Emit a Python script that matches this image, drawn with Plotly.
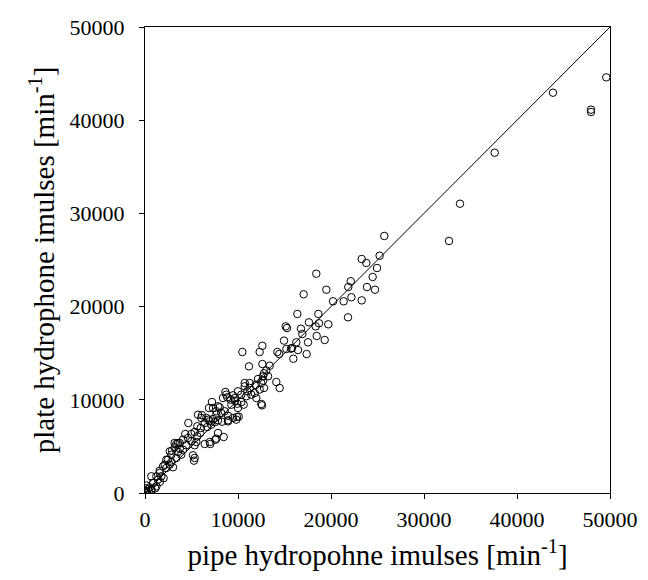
import plotly.graph_objects as go

# pipe hydrophone impulses [min^-1] (x) and plate hydrophone impulses [min^-1] (y)
pipe = [
    49600, 43870, 47960, 47960, 37600, 33870, 32690,
    25730, 25230, 23300, 23800, 24950, 18420, 24480, 22120, 21860, 19500, 23870, 24730,
    17060, 22190, 20220, 21360, 23300, 16380, 18640, 21830, 17630, 18710, 19710, 18350,
    16770, 16920, 18460, 19320, 17530, 15700, 16450, 17380, 15130, 15270, 14950, 15810,
    15200, 14230, 14440, 15950, 16270, 12620, 12330, 10470, 11180, 12620, 13410, 13040,
    12800, 12690, 13230, 12150, 12690, 14120, 14480, 10720, 10720, 11260, 11260, 11900,
    12510, 12330, 12800, 11000, 10000, 10360, 10890, 11430, 11800, 11970, 12510, 12580,
    8640, 8850, 8390, 9460, 9680, 9930, 10360, 10610, 10080, 9890, 8930, 8280, 7500,
    8740, 9220, 9650, 9280, 10000,
    7200, 6880, 8030, 7670, 6130, 6050, 6590, 6420, 6960, 6700, 7310, 7850, 8200, 7670,
    8570, 8930, 5700, 6850, 7310, 7850, 8930, 9460, 9820, 5990, 7130,
    4660, 5620, 5340, 5950, 5620, 7850, 7670, 8460, 7020, 6420, 4330, 4620, 4090, 4980,
    5340, 4440, 3370, 3190, 3730, 2900, 3550, 2830, 3900, 5160, 5270, 2470, 2830, 2660,
    3010, 2290, 1580, 4980, 5520, 6960, 7560, 3550, 4090, 3370, 2120, 1580, 680, 1220,
    680, 1220, 860, 1400, 1750, 1940, 2290, 2660, 3190, 3730, 5340,
    0, 100, 200, 300, 50, 400, 500, 150, 700, 900, 1100, 1600, 2000,
]
plate = [
    44600, 42950, 41130, 40880, 36510, 31040, 27040,
    27580, 25460, 25110, 24680, 24140, 23530, 23180, 22720, 22100, 21810, 22100, 21810,
    21320, 21000, 20570, 20570, 20670, 19210, 19210, 18850, 18310, 18210, 18100, 17880,
    17630, 17060, 16850, 16420, 16170, 15490, 15340, 14910, 17880, 17700, 16350, 15560,
    15450, 15130, 14910, 14410, 16170, 15800, 15130, 15130, 13590, 13840, 13660, 13150,
    12850, 12520, 12520, 12230, 12050, 11910, 11270, 11800, 11450, 11800, 11270, 11600,
    11800, 11100, 11270, 10910, 10910, 10550, 10380, 10550, 10730, 10190, 9550, 9410,
    10840, 10270, 10190, 10480, 9900, 9580, 9760, 9480, 8190, 8160, 7690, 7650, 7590,
    10550, 10010, 10190, 9470, 9120,
    9760, 9120, 9200, 8770, 8340, 8050, 8050, 7510, 7690, 7080, 9120, 9300, 8580, 8400,
    8770, 8290, 8400, 7870, 7940, 7800, 7800, 8050, 7870, 6970, 7330,
    7510, 7160, 6550, 6440, 6080, 6440, 5830, 6010, 5260, 5260, 6330, 5900, 5720, 5550,
    5120, 5120, 5260, 4900, 4750, 4540, 4400, 4110, 4110, 4050, 3470, 3570, 3330, 3040,
    2760, 2680, 2390, 6330, 5470, 5470, 5720, 5370, 4650, 3760, 3040, 2150, 1790, 1790,
    350, 720, 1070, 1430, 1790, 2860, 3570, 4470, 5370, 5370, 3760,
    0, 200, 100, 400, 500, 200, 600, 800, 300, 1100, 500, 1200, 1600,
]
line_ends = [0, 50000]
tick_vals = [0, 10000, 20000, 30000, 40000, 50000]
tick_text = ["0", "10000", "20000", "30000", "40000", "50000"]

FONT = "Liberation Serif, Times New Roman, serif"

fig = go.Figure()
fig.add_trace(go.Scatter(
    x=line_ends, y=line_ends, mode="lines",
    line=dict(color="black", width=1), showlegend=False, hoverinfo="skip",
))
fig.add_trace(go.Scatter(
    x=pipe, y=plate, mode="markers",
    marker=dict(symbol="circle-open", size=7.5, color="black", line=dict(width=1, color="black")),
    showlegend=False,
))

axis_common = dict(
    range=[0, 50000], tickvals=tick_vals, ticktext=tick_text,
    showline=True, linecolor="black", linewidth=1, mirror=True,
    ticks="outside", ticklen=5, tickcolor="black", tickwidth=1,
    showgrid=False, zeroline=False,
    tickfont=dict(family=FONT, size=22, color="black"),
    automargin=False,
)

fig.update_layout(
    width=648, height=580,
    margin=dict(l=137, r=46, t=19, b=95),
    paper_bgcolor="white", plot_bgcolor="white",
    font=dict(family=FONT, color="black"),
    xaxis=dict(**axis_common,
               title=dict(text="pipe hydropohne imulses [min<sup>-1</sup>]",
                          font=dict(family=FONT, size=29, color="black"), standoff=13),
               ticklabelstandoff=2),
    yaxis=dict(**axis_common,
               title=dict(text="plate hydrophone imulses [min<sup>-1</sup>]",
                          font=dict(family=FONT, size=29, color="black"), standoff=6),
               ticklabelstandoff=10),
)

fig.write_html("out.html")
